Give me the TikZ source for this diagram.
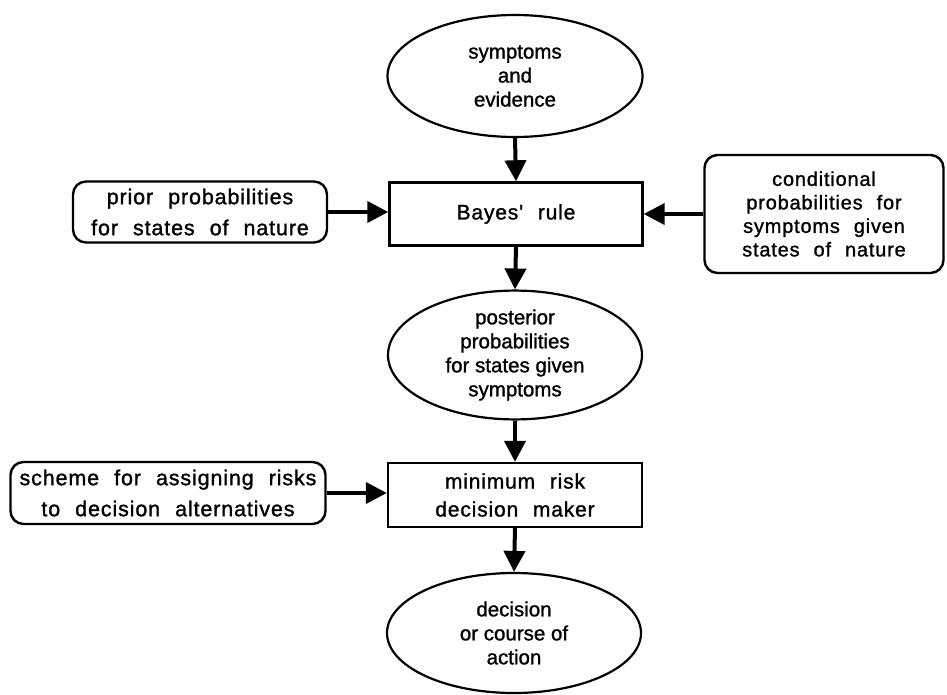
\documentclass[tikz,border=0pt]{standalone}
\usepackage{fontspec}
\setmainfont{Liberation Sans}
\newfontfamily\ovalfont[FakeBold=1.2]{Liberation Sans}
\newfontfamily\widefont[LetterSpace=4,WordSpace=2.2,FakeBold=1.2]{Liberation Sans}
\usetikzlibrary{shapes.geometric,arrows.meta}
\tikzset{
  oval/.style={ellipse,draw,line width=2.2pt,inner sep=0pt,align=center,
    font=\ovalfont\fontsize{20.5}{24}\selectfont},
  sqbox/.style={rectangle,draw,line width=2.4pt,inner sep=0pt,align=center,
    font=\widefont\fontsize{21}{28}\selectfont},
  rbox/.style={rectangle,rounded corners=13pt,draw,line width=2.4pt,inner sep=0pt,align=center,
    font=\widefont\fontsize{21.5}{31}\selectfont},
  flow/.style={line width=4pt,-{Triangle[length=21pt,width=21pt]}}
}
\begin{document}
\begin{tikzpicture}[x=1pt,y=-1pt]
\useasboundingbox (0,0) rectangle (947,695);
\node[oval,minimum width=255pt,minimum height=122pt] (e1) at (515,76) {symptoms\\and\\evidence};
\node[sqbox,minimum width=253pt,minimum height=63pt] (bayes) at (516,214) {Bayes' rule};
\node[rbox,minimum width=254pt,minimum height=61pt] (prior) at (200,212) {prior probabilities\\for states of nature};
\node[rbox,minimum width=239pt,minimum height=118pt,font=\widefont\fontsize{20}{23.5}\selectfont] (cond) at (824,214) {conditional\\probabilities for\\symptoms given\\states of nature};
\node[oval,minimum width=254pt,minimum height=124pt] (e2) at (515,355) {posterior\\probabilities\\for states given\\symptoms};
\node[sqbox,minimum width=254pt,minimum height=64pt] (mrdm) at (515,495) {minimum risk\\decision maker};
\node[rbox,minimum width=315pt,minimum height=62pt] (scheme) at (168,493) {scheme for assigning risks\\to decision alternatives};
\node[oval,minimum width=254pt,minimum height=120pt] (e3) at (514,633) {decision\\or course of\\action};
\draw[flow] (e1.south) -- (bayes.north);
\draw[flow] (prior.east) -- (prior.east -| bayes.west);
\draw[flow] (cond.west) -- (cond.west -| bayes.east);
\draw[flow] (bayes.south) -- (e2.north);
\draw[flow] (e2.south) -- (mrdm.north);
\draw[flow] (scheme.east) -- (scheme.east -| mrdm.west);
\draw[flow] (mrdm.south) -- (e3.north);
\end{tikzpicture}
\end{document}
